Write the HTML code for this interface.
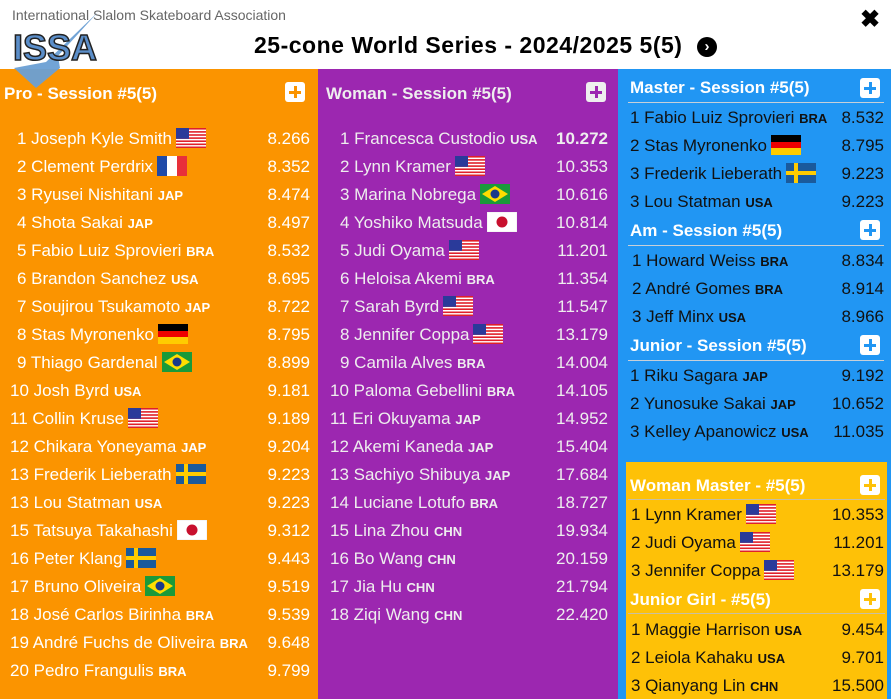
<!DOCTYPE html>
<html><head><meta charset="utf-8">
<style>
*{margin:0;padding:0;box-sizing:border-box}
body{width:891px;height:699px;overflow:hidden;background:#fff;font-family:"Liberation Sans",sans-serif;position:relative}
.col{position:absolute;top:69px;bottom:0}
.r{position:absolute;height:24px;line-height:24px;font-size:17px;white-space:nowrap}
.s{position:absolute;height:24px;line-height:24px;font-size:17px;text-align:right;width:80px}
.c{font-weight:bold;font-size:13px}
.h{position:absolute;font-weight:bold;font-size:17px;color:#fff;height:24px;line-height:24px;white-space:nowrap}
.p{position:absolute;width:20px;height:20px;background:#fff;border-radius:3px}
.p:before{content:"";position:absolute;left:4px;top:8.5px;width:12px;height:3px;background:var(--pc)}
.p:after{content:"";position:absolute;left:8.5px;top:4px;width:3px;height:12px;background:var(--pc)}
svg.f{width:30px;height:20px;vertical-align:-4px;margin-left:4px}
.hl{position:absolute;height:1px;background:#c8d0d8}
</style></head><body>
<svg width="0" height="0" style="position:absolute">
<defs>
<symbol id="us" viewBox="0 0 30 20"><rect width="30" height="20" fill="#fff"/><g fill="#e0202a"><rect y="0" width="30" height="1.6"/><rect y="3.1" width="30" height="1.6"/><rect y="6.2" width="30" height="1.6"/><rect y="9.3" width="30" height="1.6"/><rect y="12.4" width="30" height="1.6"/><rect y="15.5" width="30" height="1.6"/><rect y="18.5" width="30" height="1.5"/></g><rect width="13" height="10.8" fill="#2a3a9a"/></symbol>
<symbol id="fr" viewBox="0 0 30 20"><rect width="10" height="20" fill="#1f4aa8"/><rect x="10" width="10" height="20" fill="#fff"/><rect x="20" width="10" height="20" fill="#e8303a"/></symbol>
<symbol id="de" viewBox="0 0 30 20"><rect width="30" height="7" fill="#000"/><rect y="7" width="30" height="6" fill="#e00"/><rect y="13" width="30" height="7" fill="#fc0"/></symbol>
<symbol id="se" viewBox="0 0 30 20"><rect width="30" height="20" fill="#1a5a9c"/><rect x="8" width="4" height="20" fill="#fc0"/><rect y="8" width="30" height="4" fill="#fc0"/></symbol>
<symbol id="br" viewBox="0 0 30 20"><rect width="30" height="20" fill="#1a9a3a"/><polygon points="15,2 28,10 15,18 2,10" fill="#fd0"/><circle cx="15" cy="10" r="4.5" fill="#1a3a8a"/></symbol>
<symbol id="jp" viewBox="0 0 30 20"><rect width="30" height="20" fill="#fff" stroke="#ddd" stroke-width=".5"/><circle cx="15" cy="10" r="5.5" fill="#c8102e"/></symbol>
</defs></svg>

<div style="position:absolute;left:12px;top:7px;font-size:14px;color:#666">International Slalom Skateboard Association</div>
<div style="position:absolute;left:254px;top:32px;font-size:23px;letter-spacing:0.5px;font-weight:bold;color:#000">25-cone World Series - 2024/2025 5(5)</div>
<div style="position:absolute;left:697px;top:37px;width:20px;height:20px;border-radius:50%;background:#000;color:#fff;font-size:15px;line-height:20px;text-align:center;font-weight:bold">›</div>
<div style="position:absolute;left:860px;top:5px;font-size:24px;font-weight:bold">✖</div>

<!-- orange column -->
<div class="col" style="left:0;width:318px;background:#fb9400"></div>
<div class="h" style="left:4px;top:82px">Pro - Session #5(5)</div>
<div class="p" style="left:285px;top:82px;--pc:#fb9400"></div>
<div style="position:absolute;left:0;top:0;color:#fff">
<div class="r" style="left:17px;top:127px">1 Joseph Kyle Smith<svg class="f"><use href="#us"/></svg></div><div class="s" style="left:230px;top:127px">8.266</div>
<div class="r" style="left:17px;top:155px">2 Clement Perdrix<svg class="f"><use href="#fr"/></svg></div><div class="s" style="left:230px;top:155px">8.352</div>
<div class="r" style="left:17px;top:183px">3 Ryusei Nishitani <span class="c">JAP</span></div><div class="s" style="left:230px;top:183px">8.474</div>
<div class="r" style="left:17px;top:211px">4 Shota Sakai <span class="c">JAP</span></div><div class="s" style="left:230px;top:211px">8.497</div>
<div class="r" style="left:17px;top:239px">5 Fabio Luiz Sprovieri <span class="c">BRA</span></div><div class="s" style="left:230px;top:239px">8.532</div>
<div class="r" style="left:17px;top:267px">6 Brandon Sanchez <span class="c">USA</span></div><div class="s" style="left:230px;top:267px">8.695</div>
<div class="r" style="left:17px;top:295px">7 Soujirou Tsukamoto <span class="c">JAP</span></div><div class="s" style="left:230px;top:295px">8.722</div>
<div class="r" style="left:17px;top:323px">8 Stas Myronenko<svg class="f"><use href="#de"/></svg></div><div class="s" style="left:230px;top:323px">8.795</div>
<div class="r" style="left:17px;top:351px">9 Thiago Gardenal<svg class="f"><use href="#br"/></svg></div><div class="s" style="left:230px;top:351px">8.899</div>
<div class="r" style="left:10px;top:379px">10 Josh Byrd <span class="c">USA</span></div><div class="s" style="left:230px;top:379px">9.181</div>
<div class="r" style="left:10px;top:407px">11 Collin Kruse<svg class="f"><use href="#us"/></svg></div><div class="s" style="left:230px;top:407px">9.189</div>
<div class="r" style="left:10px;top:435px">12 Chikara Yoneyama <span class="c">JAP</span></div><div class="s" style="left:230px;top:435px">9.204</div>
<div class="r" style="left:10px;top:463px">13 Frederik Lieberath<svg class="f"><use href="#se"/></svg></div><div class="s" style="left:230px;top:463px">9.223</div>
<div class="r" style="left:10px;top:491px">13 Lou Statman <span class="c">USA</span></div><div class="s" style="left:230px;top:491px">9.223</div>
<div class="r" style="left:10px;top:519px">15 Tatsuya Takahashi<svg class="f"><use href="#jp"/></svg></div><div class="s" style="left:230px;top:519px">9.312</div>
<div class="r" style="left:10px;top:547px">16 Peter Klang<svg class="f"><use href="#se"/></svg></div><div class="s" style="left:230px;top:547px">9.443</div>
<div class="r" style="left:10px;top:575px">17 Bruno Oliveira<svg class="f"><use href="#br"/></svg></div><div class="s" style="left:230px;top:575px">9.519</div>
<div class="r" style="left:10px;top:603px">18 José Carlos Birinha <span class="c">BRA</span></div><div class="s" style="left:230px;top:603px">9.539</div>
<div class="r" style="left:10px;top:631px">19 André Fuchs de Oliveira <span class="c">BRA</span></div><div class="s" style="left:230px;top:631px">9.648</div>
<div class="r" style="left:10px;top:659px">20 Pedro Frangulis <span class="c">BRA</span></div><div class="s" style="left:230px;top:659px">9.799</div>
</div>

<!-- purple column -->
<div class="col" style="left:318px;width:300px;background:#9c27b0"></div>
<div class="h" style="left:326px;top:82px;color:#eee">Woman - Session #5(5)</div>
<div class="p" style="left:586px;top:82px;--pc:#9c27b0;background:#eee"></div>
<div style="position:absolute;left:0;top:0;color:#eee">
<div class="r" style="left:340px;top:127px">1 Francesca Custodio <span class="c">USA</span></div><div class="s" style="left:528px;top:127px;font-weight:bold">10.272</div>
<div class="r" style="left:340px;top:155px">2 Lynn Kramer<svg class="f"><use href="#us"/></svg></div><div class="s" style="left:528px;top:155px">10.353</div>
<div class="r" style="left:340px;top:183px">3 Marina Nobrega<svg class="f"><use href="#br"/></svg></div><div class="s" style="left:528px;top:183px">10.616</div>
<div class="r" style="left:340px;top:211px">4 Yoshiko Matsuda<svg class="f"><use href="#jp"/></svg></div><div class="s" style="left:528px;top:211px">10.814</div>
<div class="r" style="left:340px;top:239px">5 Judi Oyama<svg class="f"><use href="#us"/></svg></div><div class="s" style="left:528px;top:239px">11.201</div>
<div class="r" style="left:340px;top:267px">6 Heloisa Akemi <span class="c">BRA</span></div><div class="s" style="left:528px;top:267px">11.354</div>
<div class="r" style="left:340px;top:295px">7 Sarah Byrd<svg class="f"><use href="#us"/></svg></div><div class="s" style="left:528px;top:295px">11.547</div>
<div class="r" style="left:340px;top:323px">8 Jennifer Coppa<svg class="f"><use href="#us"/></svg></div><div class="s" style="left:528px;top:323px">13.179</div>
<div class="r" style="left:340px;top:351px">9 Camila Alves <span class="c">BRA</span></div><div class="s" style="left:528px;top:351px">14.004</div>
<div class="r" style="left:330px;top:379px">10 Paloma Gebellini <span class="c">BRA</span></div><div class="s" style="left:528px;top:379px">14.105</div>
<div class="r" style="left:330px;top:407px">11 Eri Okuyama <span class="c">JAP</span></div><div class="s" style="left:528px;top:407px">14.952</div>
<div class="r" style="left:330px;top:435px">12 Akemi Kaneda <span class="c">JAP</span></div><div class="s" style="left:528px;top:435px">15.404</div>
<div class="r" style="left:330px;top:463px">13 Sachiyo Shibuya <span class="c">JAP</span></div><div class="s" style="left:528px;top:463px">17.684</div>
<div class="r" style="left:330px;top:491px">14 Luciane Lotufo <span class="c">BRA</span></div><div class="s" style="left:528px;top:491px">18.727</div>
<div class="r" style="left:330px;top:519px">15 Lina Zhou <span class="c">CHN</span></div><div class="s" style="left:528px;top:519px">19.934</div>
<div class="r" style="left:330px;top:547px">16 Bo Wang <span class="c">CHN</span></div><div class="s" style="left:528px;top:547px">20.159</div>
<div class="r" style="left:330px;top:575px">17 Jia Hu <span class="c">CHN</span></div><div class="s" style="left:528px;top:575px">21.794</div>
<div class="r" style="left:330px;top:603px">18 Ziqi Wang <span class="c">CHN</span></div><div class="s" style="left:528px;top:603px">22.420</div>
</div>

<!-- blue column -->
<div class="col" style="left:618px;width:273px;background:#2196f3"></div>
<div style="position:absolute;left:0;top:0;color:#111">
<div class="h" style="left:630px;top:76px">Master - Session #5(5)</div>
<div class="p" style="left:860px;top:78px;--pc:#2196f3"></div>
<div class="hl" style="left:628px;top:102px;width:256px"></div>
<div class="r" style="left:630px;top:106px">1 Fabio Luiz Sprovieri <span class="c">BRA</span></div><div class="s" style="left:804px;top:106px">8.532</div>
<div class="r" style="left:630px;top:134px">2 Stas Myronenko<svg class="f"><use href="#de"/></svg></div><div class="s" style="left:804px;top:134px">8.795</div>
<div class="r" style="left:630px;top:162px">3 Frederik Lieberath<svg class="f"><use href="#se"/></svg></div><div class="s" style="left:804px;top:162px">9.223</div>
<div class="r" style="left:630px;top:190px">3 Lou Statman <span class="c">USA</span></div><div class="s" style="left:804px;top:190px">9.223</div>

<div class="h" style="left:630px;top:219px">Am - Session #5(5)</div>
<div class="p" style="left:860px;top:220px;--pc:#2196f3"></div>
<div class="hl" style="left:628px;top:245px;width:256px"></div>
<div class="r" style="left:632px;top:249px">1 Howard Weiss <span class="c">BRA</span></div><div class="s" style="left:804px;top:249px">8.834</div>
<div class="r" style="left:632px;top:277px">2 André Gomes <span class="c">BRA</span></div><div class="s" style="left:804px;top:277px">8.914</div>
<div class="r" style="left:632px;top:305px">3 Jeff Minx <span class="c">USA</span></div><div class="s" style="left:804px;top:305px">8.966</div>

<div class="h" style="left:630px;top:334px">Junior - Session #5(5)</div>
<div class="p" style="left:860px;top:335px;--pc:#2196f3"></div>
<div class="hl" style="left:628px;top:360px;width:256px"></div>
<div class="r" style="left:630px;top:364px">1 Riku Sagara <span class="c">JAP</span></div><div class="s" style="left:804px;top:364px">9.192</div>
<div class="r" style="left:630px;top:392px">2 Yunosuke Sakai <span class="c">JAP</span></div><div class="s" style="left:804px;top:392px">10.652</div>
<div class="r" style="left:630px;top:420px">3 Kelley Apanowicz <span class="c">USA</span></div><div class="s" style="left:804px;top:420px">11.035</div>
</div>

<!-- yellow box -->
<div style="position:absolute;left:626px;top:462px;width:261px;height:237px;background:#fec107"></div>
<div style="position:absolute;left:0;top:0;color:#111">
<div class="h" style="left:630px;top:474px">Woman Master - #5(5)</div>
<div class="p" style="left:860px;top:475px;--pc:#fec107"></div>
<div class="hl" style="left:628px;top:499px;width:257px;background:#c8c0a0"></div>
<div class="r" style="left:631px;top:503px">1 Lynn Kramer<svg class="f"><use href="#us"/></svg></div><div class="s" style="left:804px;top:503px">10.353</div>
<div class="r" style="left:631px;top:531px">2 Judi Oyama<svg class="f"><use href="#us"/></svg></div><div class="s" style="left:804px;top:531px">11.201</div>
<div class="r" style="left:631px;top:559px">3 Jennifer Coppa<svg class="f"><use href="#us"/></svg></div><div class="s" style="left:804px;top:559px">13.179</div>

<div class="h" style="left:630px;top:588px">Junior Girl - #5(5)</div>
<div class="p" style="left:860px;top:589px;--pc:#fec107"></div>
<div class="hl" style="left:628px;top:613px;width:257px;background:#c8c0a0"></div>
<div class="r" style="left:631px;top:618px">1 Maggie Harrison <span class="c">USA</span></div><div class="s" style="left:804px;top:618px">9.454</div>
<div class="r" style="left:631px;top:646px">2 Leiola Kahaku <span class="c">USA</span></div><div class="s" style="left:804px;top:646px">9.701</div>
<div class="r" style="left:631px;top:674px">3 Qianyang Lin <span class="c">CHN</span></div><div class="s" style="left:804px;top:674px">15.500</div>
</div>

<svg style="position:absolute;left:0;top:0;z-index:5" width="110" height="95">
<polygon points="98,12 58,56 60,68 36,88 14,68 46,62" fill="#6a9fd4" opacity=".95"/>
<text x="13" y="60" font-family="Liberation Sans" font-weight="bold" font-size="36" fill="#5b8ec9" stroke="#222" stroke-width="1.5" textLength="84" lengthAdjust="spacingAndGlyphs">ISSA</text>
</svg>
</body></html>
